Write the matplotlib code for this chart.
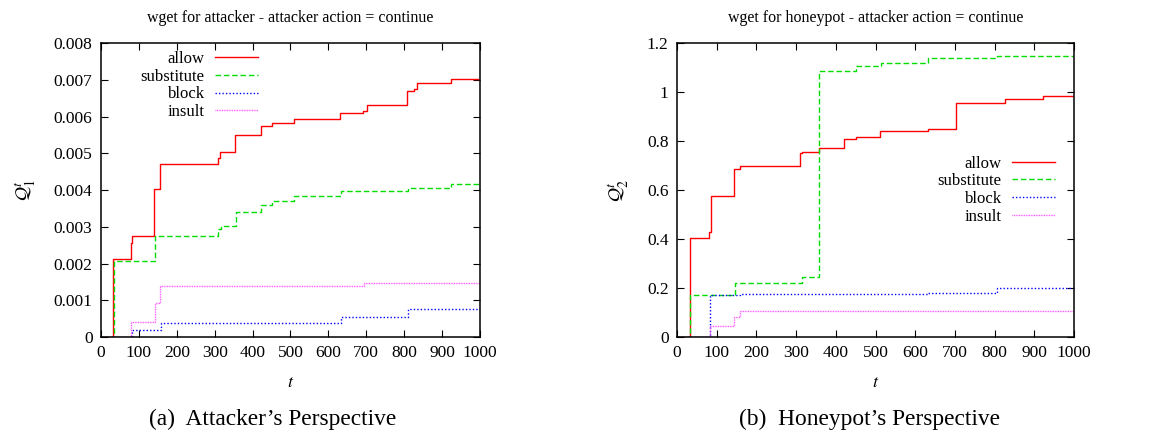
import matplotlib
matplotlib.use('Agg')
import matplotlib.pyplot as plt
from matplotlib.ticker import FuncFormatter

plt.rcParams['font.family'] = ['Liberation Serif', 'DejaVu Serif']
plt.rcParams['mathtext.fontset'] = 'stix'

# (a) attacker's perspective
t_allow_a = [0, 32, 79, 83, 141, 157, 308, 314, 354, 421, 450, 509, 631, 692, 701, 807, 826, 833, 923, 1000]
q_allow_a = [0, 0.00211, 0.00255, 0.00275, 0.00402, 0.0047, 0.00486, 0.00504, 0.0055, 0.00574, 0.00583,
             0.00593, 0.0061, 0.00615, 0.00631, 0.00669, 0.00675, 0.00692, 0.00702, 0.00702]
t_sub_a = [0, 35, 143, 310, 318, 356, 421, 450, 509, 633, 809, 923, 1000]
q_sub_a = [0, 0.00207, 0.00274, 0.00293, 0.00302, 0.00339, 0.00359, 0.0037, 0.00385, 0.00398, 0.00405,
           0.00416, 0.00416]
t_block_a = [0, 83, 158, 633, 809, 1000]
q_block_a = [0, 0.00018, 0.00038, 0.00055, 0.00075, 0.00075]
t_insult_a = [0, 80, 143, 156, 694, 1000]
q_insult_a = [0, 0.00042, 0.00093, 0.00138, 0.00146, 0.00146]

# (b) honeypot's perspective
t_allow_b = [0, 33, 81, 85, 143, 158, 309, 315, 357, 421, 450, 511, 632, 702, 827, 923, 1000]
q_allow_b = [0, 0.403, 0.43, 0.577, 0.685, 0.70, 0.75, 0.755, 0.77, 0.81, 0.815, 0.84, 0.85, 0.955,
             0.97, 0.985, 0.985]
t_sub_b = [0, 34, 145, 315, 357, 450, 513, 632, 807, 1000]
q_sub_b = [0, 0.172, 0.22, 0.245, 1.085, 1.105, 1.12, 1.138, 1.146, 1.146]
t_block_b = [0, 84, 158, 632, 806, 1000]
q_block_b = [0, 0.172, 0.177, 0.181, 0.202, 0.202]
t_insult_b = [0, 84, 143, 158, 1000]
q_insult_b = [0, 0.045, 0.08, 0.108, 0.108]

labels = ['allow', 'substitute', 'block', 'insult']
colors = ['#ff0000', '#00dd00', '#0000ff', '#ff44ff']
styles = ['-', (0, (4, 2)), (0, (1, 1.5)), (0, (0.6, 0.6))]
xticks = [0, 100, 200, 300, 400, 500, 600, 700, 800, 900, 1000]

fig = plt.figure(figsize=(11.63, 4.41), dpi=100)
ax1 = fig.add_axes([0.0868, 0.2358, 0.3259, 0.6667])
ax2 = fig.add_axes([0.5821, 0.2358, 0.3414, 0.6667])

data_a = [(t_allow_a, q_allow_a), (t_sub_a, q_sub_a), (t_block_a, q_block_a), (t_insult_a, q_insult_a)]
data_b = [(t_allow_b, q_allow_b), (t_sub_b, q_sub_b), (t_block_b, q_block_b), (t_insult_b, q_insult_b)]

for ax, data in [(ax1, data_a), (ax2, data_b)]:
    for (t, q), lab, c, ls in zip(data, labels, colors, styles):
        ax.plot(t, q, drawstyle='steps-post', color=c, linestyle=ls, lw=1.0, label=lab)
    ax.set_xlim(0, 1000)
    ax.set_xticks(xticks)
    ax.tick_params(direction='in', top=True, right=True, length=5, labelsize=12.5, pad=6)
    ax.yaxis.set_major_formatter(FuncFormatter(lambda v, p: '%g' % round(v, 6)))
    ax.set_xlabel('$t$', fontsize=13, labelpad=9)
    for s in ax.spines.values():
        s.set_linewidth(1.1)

ax1.set_ylim(0, 0.008)
ax1.set_yticks([0, 0.001, 0.002, 0.003, 0.004, 0.005, 0.006, 0.007, 0.008])
ax1.set_ylabel('$\\mathcal{Q}^t_1$', fontsize=14, labelpad=12)
ax1.set_title('wget for attacker - attacker action = continue', fontsize=11.5, pad=15)
ax1.legend(loc='upper left', bbox_to_anchor=(0.074, 1.012), frameon=False, markerfirst=False,
           fontsize=12, handlelength=2.6, handletextpad=0.6, labelspacing=0.1, borderaxespad=0.3)

ax2.set_ylim(0, 1.2)
ax2.set_yticks([0, 0.2, 0.4, 0.6, 0.8, 1.0, 1.2])
ax2.set_ylabel('$\\mathcal{Q}^t_2$', fontsize=14, labelpad=12)
ax2.set_title('wget for honeypot - attacker action = continue', fontsize=11.5, pad=15)
ax2.legend(loc='center right', bbox_to_anchor=(0.99, 0.50), frameon=False, markerfirst=False,
           fontsize=12, handlelength=2.6, handletextpad=0.6, labelspacing=0.1)

fig.text(0.234, 0.048, '(a)  Attacker\u2019s Perspective', ha='center', va='center', fontsize=16.8)
fig.text(0.748, 0.048, '(b)  Honeypot\u2019s Perspective', ha='center', va='center', fontsize=16.8)

fig.savefig('out.png', dpi=100)
